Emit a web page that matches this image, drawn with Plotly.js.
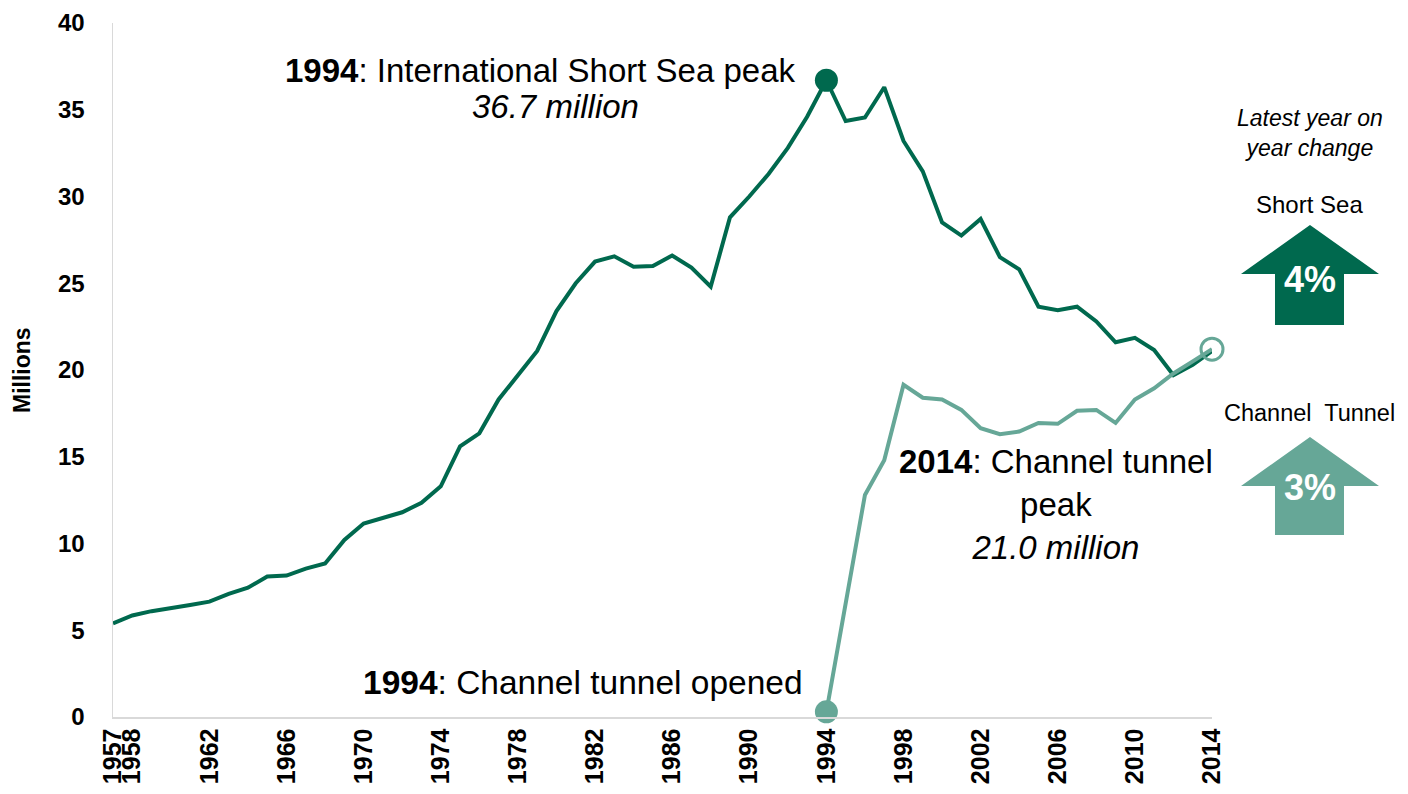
<!DOCTYPE html>
<html>
<head>
<meta charset="utf-8">
<script src="https://cdn.plot.ly/plotly-3.0.1.min.js"></script>
<style>
html,body{margin:0;padding:0;background:#fff;}
#chart{width:1408px;height:794px;}
</style>
</head>
<body>
<div id="chart"></div>
<script>
// ---- Data (millions of passengers) ----
const years = [1957,1958,1959,1960,1961,1962,1963,1964,1965,1966,1967,1968,1969,1970,1971,1972,1973,1974,1975,1976,1977,1978,1979,1980,1981,1982,1983,1984,1985,1986,1987,1988,1989,1990,1991,1992,1993,1994,1995,1996,1997,1998,1999,2000,2001,2002,2003,2004,2005,2006,2007,2008,2009,2010,2011,2012,2013,2014];
const shortSea = [5.4,5.85,6.1,6.25,6.45,6.65,7.1,7.45,8.1,8.15,8.55,8.85,10.2,11.15,11.45,11.8,12.35,13.3,15.6,16.35,18.3,19.7,21.1,23.4,25.0,26.25,26.55,25.95,26.0,26.6,25.9,24.8,28.8,30.0,31.3,32.8,34.6,36.7,34.35,34.55,36.3,33.2,31.45,28.5,27.75,28.7,26.5,25.8,23.65,23.45,23.65,22.8,21.6,21.85,21.15,19.7,20.3,21.1];
const tunnelYears = [1994,1995,1996,1997,1998,1999,2000,2001,2002,2003,2004,2005,2006,2007,2008,2009,2010,2011,2012,2013,2014];
const channelTunnel = [0.3,6.6,12.8,14.8,19.15,18.4,18.3,17.7,16.65,16.3,16.45,16.95,16.9,17.65,17.7,16.95,18.3,18.95,19.8,20.5,21.2];
const tickYears = [1957,1958,1962,1966,1970,1974,1978,1982,1986,1990,1994,1998,2002,2006,2010,2014];
const yTicks = [0,5,10,15,20,25,30,35,40];
const changeShortSea = "4%";
const changeTunnel = "3%";

const DARK = '#00694E';
const LIGHT = '#66A797';
const FONT = 'Liberation Sans, Arial, sans-serif';

const peakIdx = years.indexOf(1994);
const lastT = tunnelYears.length - 1;

const traces = [
  {x: years, y: shortSea, type: 'scatter', mode: 'lines', line: {color: DARK, width: 4}, cliponaxis: false, hoverinfo: 'skip'},
  {x: tunnelYears, y: channelTunnel, type: 'scatter', mode: 'lines', line: {color: LIGHT, width: 4}, cliponaxis: false, hoverinfo: 'skip'},
  {x: [years[peakIdx]], y: [shortSea[peakIdx]], type: 'scatter', mode: 'markers', marker: {color: DARK, size: 23}, cliponaxis: false, hoverinfo: 'skip'},
  {x: [tunnelYears[0]], y: [channelTunnel[0]], type: 'scatter', mode: 'markers', marker: {color: LIGHT, size: 23}, cliponaxis: false, hoverinfo: 'skip'},
  {x: [tunnelYears[lastT]], y: [channelTunnel[lastT]], type: 'scatter', mode: 'markers', marker: {color: 'rgba(0,0,0,0)', size: 22, line: {color: LIGHT, width: 3}}, cliponaxis: false, hoverinfo: 'skip'}
];

function arrow(yTip, yWing, yBottom) {
  const xl = 1.02639, xbl = 1.05732, xc = 1.08917, xbr = 1.12011, xr = 1.15196;
  return `M ${xc} ${yTip} L ${xr} ${yWing} L ${xbr} ${yWing} L ${xbr} ${yBottom} L ${xbl} ${yBottom} L ${xbl} ${yWing} L ${xl} ${yWing} Z`;
}

const layout = {
  width: 1408, height: 794,
  margin: {l: 113, r: 196, t: 23, b: 77},
  paper_bgcolor: '#fff', plot_bgcolor: '#fff',
  showlegend: false,
  hovermode: false,
  font: {family: FONT, color: '#000'},
  xaxis: {
    range: [1957, 2014], tickmode: 'array', tickvals: tickYears, ticktext: tickYears.map(String),
    tickangle: -90, tickfont: {family: FONT, size: 25, color: '#000', weight: 'bold'},
    showline: true, linecolor: '#D9D9D9', linewidth: 1.5, showgrid: false, zeroline: false, ticks: ''
  },
  yaxis: {
    range: [0, 40], tickmode: 'array', tickvals: yTicks, ticktext: yTicks.map(String),
    tickfont: {family: FONT, size: 24, color: '#000', weight: 'bold'},
    showline: true, linecolor: '#D9D9D9', linewidth: 1.5, showgrid: false, zeroline: false, ticks: '',
    ticklabelstandoff: 22
  },
  shapes: [
    {type: 'path', xref: 'paper', yref: 'paper', path: arrow(0.70893, 0.63833, 0.56484), fillcolor: DARK, line: {width: 0}},
    {type: 'path', xref: 'paper', yref: 'paper', path: arrow(0.40346, 0.33285, 0.26225), fillcolor: LIGHT, line: {width: 0}}
  ],
  annotations: [
    {xref: 'x', yref: 'y', x: 1979.15, y: 37.29, text: '<b>1994</b>: International Short Sea peak', showarrow: false, xanchor: 'center', yanchor: 'middle', font: {family: FONT, size: 33, color: '#000'}},
    {xref: 'x', yref: 'y', x: 1979.93, y: 35.16, text: '<i>36.7 million</i>', showarrow: false, xanchor: 'center', yanchor: 'middle', font: {family: FONT, size: 33, color: '#000'}},
    {xref: 'x', yref: 'y', x: 2005.9, y: 12.22, text: '<b>2014</b>: Channel tunnel<br>peak<br><i>21.0 million</i>', showarrow: false, xanchor: 'center', yanchor: 'middle', align: 'center', font: {family: FONT, size: 33, color: '#000'}},
    {xref: 'x', yref: 'y', x: 1981.38, y: 1.96, text: '<b>1994</b>: Channel tunnel opened', showarrow: false, xanchor: 'center', yanchor: 'middle', font: {family: FONT, size: 33.5, color: '#000'}},
    {xref: 'paper', yref: 'paper', x: -0.0828, y: 0.5, text: '<b>Millions</b>', textangle: -90, showarrow: false, xanchor: 'center', yanchor: 'middle', font: {family: FONT, size: 23, color: '#000'}},
    {xref: 'paper', yref: 'paper', x: 1.08917, y: 0.8415, text: '<i>Latest year on<br>year change</i>', showarrow: false, xanchor: 'center', yanchor: 'middle', align: 'center', font: {family: FONT, size: 23, color: '#000'}},
    {xref: 'paper', yref: 'paper', x: 1.08917, y: 0.7378, text: 'Short Sea', showarrow: false, xanchor: 'center', yanchor: 'middle', font: {family: FONT, size: 24, color: '#000'}},
    {xref: 'paper', yref: 'paper', x: 1.08917, y: 0.438, text: 'Channel&nbsp; Tunnel', showarrow: false, xanchor: 'center', yanchor: 'middle', font: {family: FONT, size: 23.5, color: '#000'}},
    {xref: 'paper', yref: 'paper', x: 1.08917, y: 0.6297, text: '<b>' + changeShortSea + '</b>', showarrow: false, xanchor: 'center', yanchor: 'middle', font: {family: FONT, size: 36, color: '#fff'}},
    {xref: 'paper', yref: 'paper', x: 1.08917, y: 0.33, text: '<b>' + changeTunnel + '</b>', showarrow: false, xanchor: 'center', yanchor: 'middle', font: {family: FONT, size: 36, color: '#fff'}}
  ]
};

Plotly.newPlot('chart', traces, layout, {displayModeBar: false, staticPlot: true});
</script>
</body>
</html>
